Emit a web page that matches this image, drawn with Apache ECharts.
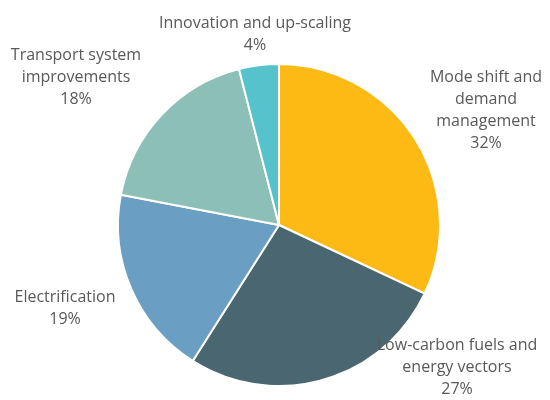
<!DOCTYPE html>
<html>
<head>
<meta charset="utf-8">
<script src="https://cdn.jsdelivr.net/npm/echarts@6/dist/echarts.min.js"></script>
<style>
  html, body { margin: 0; padding: 0; background: #fff; }
  #chart { width: 550px; height: 400px; }
</style>
</head>
<body>
<div id="chart"></div>
<script>
// slices, clockwise from 12 o'clock
const categories = [
  'Mode shift and\ndemand\nmanagement',
  'Low-carbon fuels and\nenergy vectors',
  'Electrification',
  'Transport system\nimprovements',
  'Innovation and up-scaling'
];
const shares = [32, 27, 19, 18, 4];
const colors = ['#FDBA14', '#4A6671', '#6A9EC2', '#8CBFB8', '#56C2CC'];

// where each label block sits (centre of text block)
const labelSpots = [
  [486, 110],
  [457, 367],
  [65, 308],
  [76, 77],
  [255, 34]
];

const chart = echarts.init(document.getElementById('chart'));
chart.setOption({
  animation: false,
  series: [{
    type: 'pie',
    center: [279, 225],
    radius: 161,
    startAngle: 90,
    clockwise: true,
    data: categories.map(function (name, i) {
      return { name: name, value: shares[i], itemStyle: { color: colors[i] } };
    }),
    itemStyle: { borderColor: '#fff', borderWidth: 2 },
    label: {
      show: true,
      position: 'outside',
      formatter: '{b}\n{c}%',
      color: '#595959',
      fontFamily: '"Open Sans", sans-serif',
      fontSize: 16,
      lineHeight: 22,
      align: 'center',
      overflow: 'none',
      width: 300
    },
    labelLine: { show: false },
    labelLayout: function (params) {
      const p = labelSpots[params.dataIndex];
      return { x: p[0], y: p[1], align: 'center', verticalAlign: 'middle' };
    },
    emphasis: { disabled: true }
  }]
});
</script>
</body>
</html>
